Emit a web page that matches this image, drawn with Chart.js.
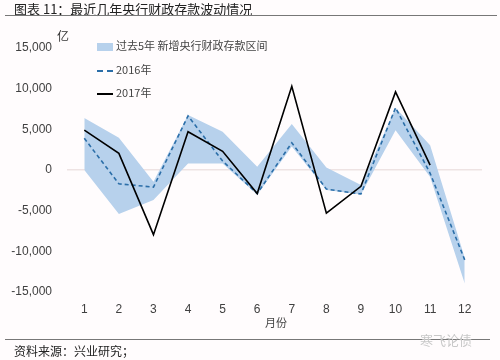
<!DOCTYPE html>
<html>
<head>
<meta charset="utf-8">
<script src="https://cdn.jsdelivr.net/npm/chart.js@4/dist/chart.umd.min.js"></script>
<style>
  html, body { margin: 0; padding: 0; background: #fffcfd; }
  #wrap { position: relative; width: 500px; height: 360px; overflow: hidden;
          font-family: "Noto Sans CJK SC", "DejaVu Sans", sans-serif; color: #222; }
  #chart { position: absolute; left: 0; top: 0; }
  .abs { position: absolute; white-space: nowrap; }
  .title { left: 14px; top: 0px; font-size: 13px; line-height: 17px; }
  .rule { position: absolute; left: 5px; height: 1px; background: #777; }
  .unit { left: 57px; top: 27px; font-size: 12px; color: #333; }
  .xname { left: 265px; top: 314px; font-size: 11px; color: #444; }
  .source { left: 14px; top: 343px; font-size: 12px; line-height: 16px; }
  .mark { left: 420px; top: 330px; font-size: 13px; color: #c8c8c8; }
  .legend { left: 97px; font-size: 11px; color: #444; line-height: 14px; }
  .legend i { display: inline-block; vertical-align: middle; width: 16px; margin-right: 3px; }
</style>
</head>
<body>
<div id="wrap">
  <canvas id="chart" width="500" height="360"></canvas>
  <div class="abs title">图表 11：最近几年央行财政存款波动情况</div>
  <div class="rule" style="top:15px; width:492px;"></div>
  <div class="abs unit">亿</div>
  <div class="abs legend" style="top:38px;"><i style="height:8px;background:#b7d1ec;"></i>过去5年 新增央行财政存款区间</div>
  <div class="abs legend" style="top:62px;"><i style="height:0;border-top:2px dashed #2b6ea8;"></i>2016年</div>
  <div class="abs legend" style="top:85px;"><i style="height:0;border-top:2px solid #000;"></i>2017年</div>
  <div class="abs xname">月份</div>
  <div class="rule" style="top:339px; width:485px;"></div>
  <div class="abs source">资料来源：兴业研究；</div>
  <div class="abs mark">寒飞论债</div>
</div>
<script>
// months on the x axis
const months = ['1', '2', '3', '4', '5', '6', '7', '8', '9', '10', '11', '12'];

// range of the past five years (upper / lower edge of the band)
const bandHigh = [6400, 3950, -1450, 6750, 4700, 400, 5650, 300, -1850, 7650, 3050, -10800];
const bandLow = [0, -5400, -3700, 800, 800, -3050, 2900, -2450, -3000, 4900, -850, -13950];

const y2016 = [3900, -1700, -2100, 6650, 1100, -2900, 3350, -2350, -2950, 7650, -400, -11050];
const y2017 = [4900, 2050, -7950, 4700, 2300, -2900, 10300, -5300, -2000, 9600, 600, null];

const yTicks = [-15000, -10000, -5000, 0, 5000, 10000, 15000];

const tickFont = { family: '"Liberation Sans", Arial, sans-serif', size: 12 };

new Chart(document.getElementById('chart'), {
    type: 'line',
    data: {
        labels: months,
        datasets: [
            {
                label: '2017年',
                data: y2017,
                borderColor: '#000',
                borderWidth: 1.6,
                pointRadius: 0,
                tension: 0,
                fill: false,
            },
            {
                label: '2016年',
                data: y2016,
                borderColor: '#2b6ea8',
                borderWidth: 1.6,
                borderDash: [4, 3],
                pointRadius: 0,
                tension: 0,
                fill: false,
            },
            {
                label: 'high',
                data: bandHigh,
                borderWidth: 0,
                borderColor: 'rgba(0,0,0,0)',
                backgroundColor: '#b7d1ec',
                pointRadius: 0,
                tension: 0,
                fill: '+1',
            },
            {
                label: 'low',
                data: bandLow,
                borderWidth: 0,
                borderColor: 'rgba(0,0,0,0)',
                pointRadius: 0,
                tension: 0,
                fill: false,
            },
        ],
    },
    options: {
        responsive: false,
        animation: false,
        locale: 'en-US',
        layout: { padding: { top: 48, right: 18, bottom: 0, left: 0 } },
        plugins: {
            legend: { display: false },
            tooltip: { enabled: false },
        },
        scales: {
            x: {
                offset: true,
                grid: { display: false, drawTicks: false },
                border: { display: false },
                ticks: { color: '#404040', font: tickFont, padding: 10, maxRotation: 0 },
                afterFit: (scale) => { scale.height = 68; },
            },
            y: {
                min: -15000,
                max: 15000,
                afterBuildTicks: (scale) => { scale.ticks = yTicks.map((v) => ({ value: v })); },
                grid: {
                    drawTicks: false,
                    color: (c) => (c.tick && c.tick.value === 0 ? '#eee3e3' : 'rgba(0,0,0,0)'),
                    lineWidth: 1.5,
                },
                border: { display: false },
                ticks: {
                    color: '#404040',
                    font: tickFont,
                    padding: 15,
                    callback: (v) => v.toLocaleString('en-US'),
                },
                afterFit: (scale) => { scale.width = 67; },
            },
        },
    },
});
</script>
</body>
</html>
